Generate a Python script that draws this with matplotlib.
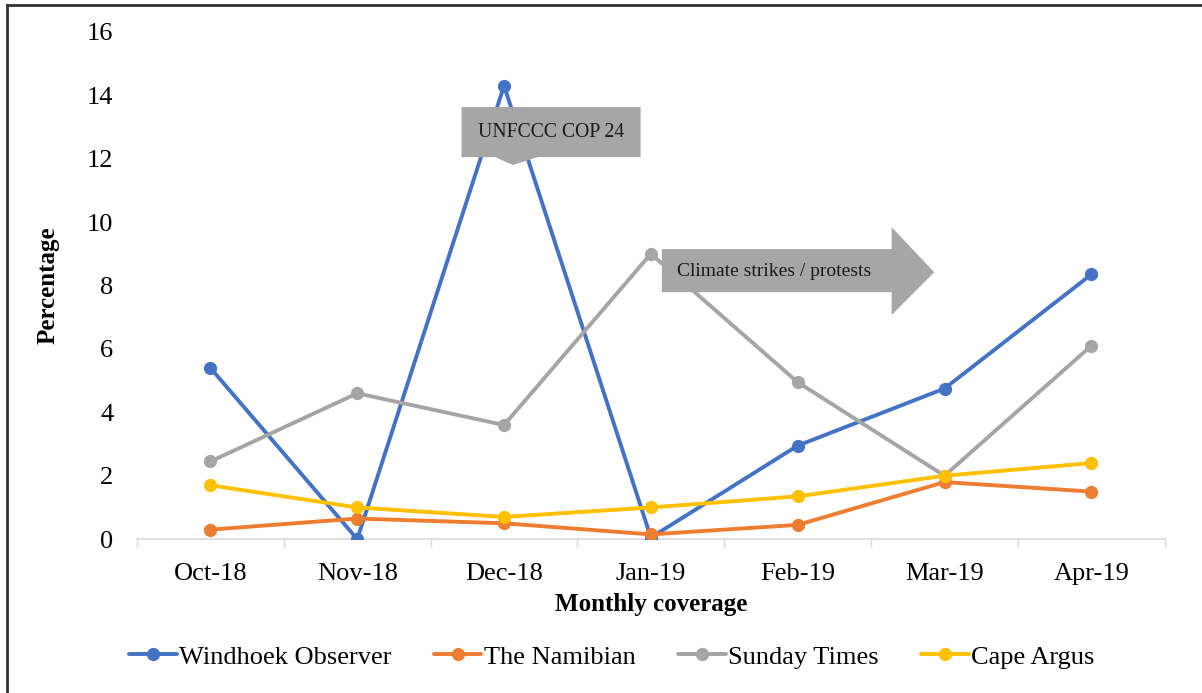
import matplotlib.pyplot as plt
from matplotlib.patches import Polygon
from matplotlib.lines import Line2D

plt.rcParams['font.family'] = ['Liberation Serif', 'DejaVu Serif']

months = ["Oct-18", "Nov-18", "Dec-18", "Jan-19", "Feb-19", "Mar-19", "Apr-19"]
windhoek = [5.4, 0.0, 14.3, 0.05, 2.95, 4.75, 8.35]
namibian = [0.3, 0.65, 0.5, 0.15, 0.45, 1.8, 1.5]
sunday = [2.45, 4.6, 3.6, 9.0, 4.95, 2.0, 6.1]
argus = [1.7, 1.0, 0.7, 1.0, 1.35, 2.0, 2.4]

series = [
    ("Windhoek Observer", windhoek, "#4472C4"),
    ("The Namibian", namibian, "#ED7D31"),
    ("Sunday Times", sunday, "#A5A5A5"),
    ("Cape Argus", argus, "#FFC000"),
]

fig = plt.figure(figsize=(12.02, 6.93), dpi=100)
ax = fig.add_axes([0.114, 0.222, 0.855, 0.732])

x = list(range(len(months)))
for name, vals, col in series:
    ax.plot(x, vals, color=col, lw=2.8, marker="o", ms=8.5, label=name,
            solid_capstyle="round", zorder=3)

ax.set_xlim(-0.5, len(months) - 0.5)
ax.set_ylim(0, 16)
ax.set_yticks(range(0, 17, 2))
ax.set_xticks(x)
ax.set_xticklabels(months)
ax.set_xticks([i - 0.5 for i in range(len(months) + 1)], minor=True)
ax.tick_params(axis="y", length=0, labelsize=19, pad=17)
ax.tick_params(axis="x", which="major", length=0, labelsize=19, pad=17)
ax.tick_params(axis="x", which="minor", length=6, color="#D9D9D9", width=1)
for s in ["top", "right", "left"]:
    ax.spines[s].set_visible(False)
ax.spines["bottom"].set_color("#D9D9D9")
ax.spines["bottom"].set_linewidth(1.2)

ax.set_xlabel("Monthly coverage", fontsize=18, fontweight="bold", labelpad=6)
ax.set_ylabel("Percentage", fontsize=18, fontweight="bold", labelpad=20)

# callout: COP 24
grey = "#A6A6A6"
cop = Polygon([(1.71, 13.63), (2.93, 13.63), (2.93, 12.05), (2.23, 12.05),
               (2.06, 11.8), (1.94, 12.05), (1.71, 12.05)],
              closed=True, fc=grey, ec="none", zorder=5)
ax.add_patch(cop)
ax.text(2.32, 12.84, "UNFCCC COP 24", fontsize=14.2, ha="center", va="center",
        color="#1a1a1a", zorder=6)

# arrow: climate strikes
arr = Polygon([(3.075, 9.15), (4.64, 9.15), (4.64, 9.84), (4.93, 8.42),
               (4.64, 7.07), (4.64, 7.79), (3.075, 7.79)],
              closed=True, fc=grey, ec="none", zorder=5)
ax.add_patch(arr)
ax.text(3.18, 8.45, "Climate strikes / protests", fontsize=14, ha="left",
        va="center", color="#1a1a1a", zorder=6)

fig.legend(*ax.get_legend_handles_labels(), loc="center",
           bbox_to_anchor=(0.509, 0.052), bbox_transform=fig.transFigure,
           ncol=4, frameon=False, fontsize=19, handlelength=1.8,
           handletextpad=0.1, columnspacing=1.6)

# figure border
fig.add_artist(Line2D([0.006, 0.006], [0.0, 0.993], color="#333333", lw=2,
                      transform=fig.transFigure))
fig.add_artist(Line2D([0.006, 1.0], [0.993, 0.993], color="#333333", lw=2,
                      transform=fig.transFigure))

fig.savefig("out.png", dpi=100)
